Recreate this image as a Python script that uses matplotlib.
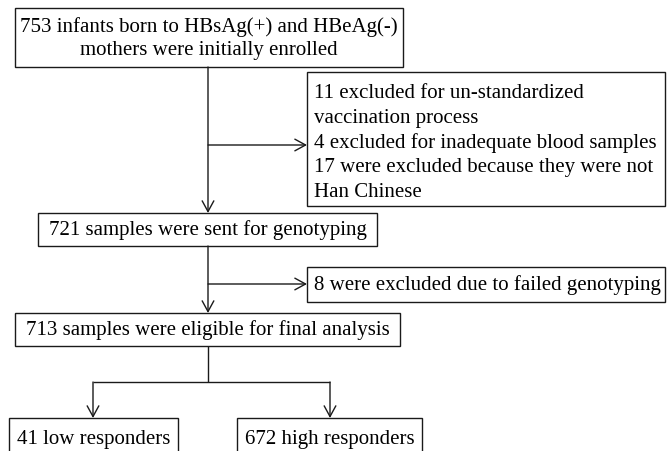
"""Flow diagram of participant enrolment and exclusion."""

import matplotlib.pyplot as plt
from matplotlib.patches import Rectangle

# ── Flow data ────────────────────────────────────────────────────────────

ENROLLED_LINES = [
    "753 infants born to HBsAg(+) and HBeAg(-)",
    "mothers were initially enrolled",
]
EXCLUDED_LINES = [
    "11 excluded for un-standardized",
    "vaccination process",
    "4 excluded for inadequate blood samples",
    "17 were excluded because they were not",
    "Han Chinese",
]
GENOTYPED_LINES = ["721 samples were sent for genotyping"]
FAILED_LINES = ["8 were excluded due to failed genotyping"]
ELIGIBLE_LINES = ["713 samples were eligible for final analysis"]
LOW_LINES = ["41 low responders"]
HIGH_LINES = ["672 high responders"]

# ── Layout (pixel units, y grows downward) ───────────────────────────────

W, H = 667, 452
SPINE_X = 208

# name: (x, y, width, height, align)
BOXES = {
    "enrolled": (15, 9, 388, 59, "center"),
    "excluded": (307, 73, 358, 134, "left"),
    "genotyped": (38, 214, 339, 33, "center"),
    "failed": (307, 268, 358, 35, "left"),
    "eligible": (15, 314, 385, 33, "center"),
    "low": (9, 419, 169, 45, "center"),
    "high": (237, 419, 185, 45, "center"),
}

FONT = "Liberation Serif"
FONT_SIZE = 15
LINE_STEP = 25
LINE_COLOR = "#1a1a1a"
LINE_WIDTH = 1.0


# ── Helpers ──────────────────────────────────────────────────────────────

def draw_box(ax, key, lines, first=None, step=LINE_STEP):
    x, y, w, h, align = BOXES[key]
    ax.add_patch(Rectangle((x, y), w, h, facecolor="white",
                           edgecolor=LINE_COLOR, linewidth=LINE_WIDTH))
    n = len(lines)
    if first is None:
        first = y + h / 2 - (n - 1) * step / 2
    for i, line in enumerate(lines):
        ty = first + i * step
        if align == "left":
            ax.text(x + 7, ty, line, ha="left", va="center",
                    family=FONT, fontsize=FONT_SIZE)
        else:
            ax.text(x + w / 2, ty, line, ha="center", va="center",
                    family=FONT, fontsize=FONT_SIZE)


def arrow(ax, start, end):
    ax.annotate("", xy=end, xytext=start,
                arrowprops=dict(arrowstyle="->,head_length=0.55,head_width=0.3",
                                color=LINE_COLOR, lw=LINE_WIDTH,
                                shrinkA=0, shrinkB=0, mutation_scale=14))


def line(ax, xs, ys):
    ax.plot(xs, ys, color=LINE_COLOR, lw=LINE_WIDTH, solid_capstyle="butt")


# ── Drawing ──────────────────────────────────────────────────────────────

fig = plt.figure(figsize=(W / 100, H / 100), dpi=100)
ax = fig.add_axes([0, 0, 1, 1])
ax.set_xlim(0, W)
ax.set_ylim(H, 0)
ax.axis("off")

b = BOXES
# main spine, enrolled -> genotyped
arrow(ax, (SPINE_X, b["enrolled"][1] + b["enrolled"][3]), (SPINE_X, b["genotyped"][1]))
arrow(ax, (SPINE_X, 146), (b["excluded"][0], 146))
# genotyped -> eligible
arrow(ax, (SPINE_X, b["genotyped"][1] + b["genotyped"][3]), (SPINE_X, b["eligible"][1]))
arrow(ax, (SPINE_X, 285), (b["failed"][0], 285))
# eligible -> split
branch_y = 383
low_x = b["low"][0] + 84
high_x = b["high"][0] + 93
line(ax, [SPINE_X, SPINE_X], [b["eligible"][1] + b["eligible"][3], branch_y])
line(ax, [low_x, high_x], [branch_y, branch_y])
arrow(ax, (low_x, branch_y), (low_x, b["low"][1]))
arrow(ax, (high_x, branch_y), (high_x, b["high"][1]))

draw_box(ax, "enrolled", ENROLLED_LINES, first=b["enrolled"][1] + 18, step=24)
draw_box(ax, "excluded", EXCLUDED_LINES, first=93)
draw_box(ax, "genotyped", GENOTYPED_LINES)
draw_box(ax, "failed", FAILED_LINES)
draw_box(ax, "eligible", ELIGIBLE_LINES)
draw_box(ax, "low", LOW_LINES, first=b["low"][1] + 21)
draw_box(ax, "high", HIGH_LINES, first=b["high"][1] + 21)

fig.savefig("out.png", dpi=100)
